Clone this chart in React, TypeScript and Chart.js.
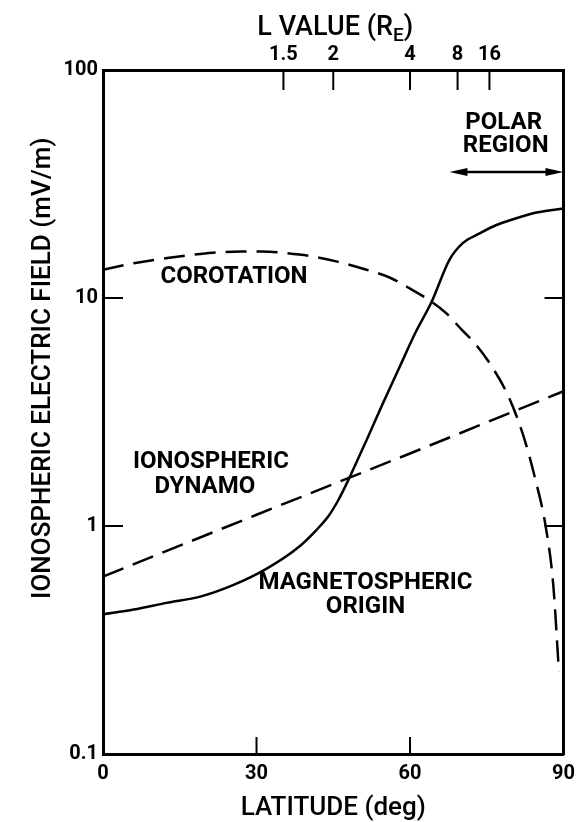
import React, { useEffect, useRef } from "react";
import { Chart, registerables } from "chart.js";

Chart.register(...registerables);

// ---- data ----
const corotationLat = [0, 6, 12, 19, 27, 31, 36, 41, 46, 51, 56, 60, 64, 67, 70, 73, 76, 79, 82, 84.5, 86.5, 88, 89.1];
const corotationField = [13.3, 14.2, 14.9, 15.6, 16.0, 16.0, 15.7, 15.2, 14.4, 13.4, 12.3, 11.0, 9.7, 8.6, 7.3, 6.2, 5.0, 3.8, 2.55, 1.6, 1.0, 0.55, 0.23];

const dynamoLat = [0, 30, 60, 90];
const dynamoField = [0.6, 1.12, 2.08, 3.9];

const magnetoLat = [0, 6, 12.4, 19, 25.4, 32, 38, 41.7, 44, 46, 48, 51.5, 54.7, 58, 61, 64.2, 67.7, 70.3, 73.6, 76.9, 80, 84.7, 90];
const magnetoField = [0.41, 0.43, 0.46, 0.49, 0.55, 0.65, 0.8, 0.96, 1.1, 1.3, 1.6, 2.38, 3.45, 5.0, 7.0, 9.6, 14.7, 17.4, 19.2, 20.9, 22.1, 23.7, 24.7];

const latitudeTicks = [0, 30, 60, 90];
const fieldTicks = [0.1, 1, 10, 100];
const fieldTickLabels = ["0.1", "1", "10", "100"];
const lValues = [1.5, 2, 4, 8, 16];
const lTickLabels = ["1.5", "2", "4", "8", "16"];
const innerLatTicks = [30, 60];
const innerFieldTicks = [1, 10];

const annotationTexts = ["COROTATION", "IONOSPHERIC", "DYNAMO", "MAGNETOSPHERIC", "ORIGIN", "POLAR", "REGION"];
const annotationLat = [25.6, 21.1, 19.9, 51.3, 51.3, 78.3, 78.7];
const annotationField = [12.4, 1.91, 1.48, 0.562, 0.44, 58.6, 46.4];
const polarRegionLat = [67.7, 90];
const polarArrowField = 35.7;

const FONT = "Roboto, 'DejaVu Sans', sans-serif";

const latOfL = (L: number) => (Math.acos(Math.sqrt(1 / L)) * 180) / Math.PI;

const pts = (xs: number[], ys: number[]) => xs.map((x, i) => ({ x, y: ys[i] }));

const decorPlugin = {
  id: "decor",
  afterDraw(chart: any) {
    const { ctx, chartArea } = chart;
    const xs = chart.scales.x;
    const ys = chart.scales.y;
    const { left, right, top, bottom } = chartArea;
    ctx.save();
    ctx.strokeStyle = "#000";
    ctx.fillStyle = "#000";
    ctx.lineWidth = 2;
    // inward ticks
    innerFieldTicks.forEach((v) => {
      const y = ys.getPixelForValue(v);
      ctx.beginPath();
      ctx.moveTo(left, y);
      ctx.lineTo(left + 20, y);
      ctx.moveTo(right, y);
      ctx.lineTo(right - 19, y);
      ctx.stroke();
    });
    innerLatTicks.forEach((v) => {
      const x = xs.getPixelForValue(v);
      ctx.beginPath();
      ctx.moveTo(x, bottom);
      ctx.lineTo(x, bottom - 17);
      ctx.stroke();
    });
    lValues.forEach((L) => {
      const x = xs.getPixelForValue(latOfL(L));
      ctx.beginPath();
      ctx.moveTo(x, top);
      ctx.lineTo(x, top + 20);
      ctx.stroke();
    });

    // annotations
    ctx.font = `bold 24px ${FONT}`;
    ctx.textAlign = "center";
    ctx.textBaseline = "middle";
    annotationTexts.forEach((t, i) => {
      ctx.fillText(t, xs.getPixelForValue(annotationLat[i]), ys.getPixelForValue(annotationField[i]));
    });

    // polar region arrow
    const ax1 = xs.getPixelForValue(polarRegionLat[0]);
    const ax2 = xs.getPixelForValue(polarRegionLat[1]);
    const ay = ys.getPixelForValue(polarArrowField);
    ctx.lineWidth = 2.5;
    ctx.beginPath();
    ctx.moveTo(ax1 + 8, ay);
    ctx.lineTo(ax2 - 8, ay);
    ctx.stroke();
    const head = (x: number, dir: number) => {
      ctx.beginPath();
      ctx.moveTo(x, ay);
      ctx.lineTo(x + dir * 18, ay - 4);
      ctx.lineTo(x + dir * 18, ay + 4);
      ctx.closePath();
      ctx.fill();
    };
    head(ax1, 1);
    head(ax2, -1);

    // axis titles
    ctx.font = `500 26px ${FONT}`;
    ctx.textBaseline = "middle";
    ctx.save();
    ctx.translate(43, top + (bottom - top) * 0.436);
    ctx.rotate(-Math.PI / 2);
    ctx.fillText("IONOSPHERIC ELECTRIC FIELD (mV/m)", 0, 0);
    ctx.restore();

    ctx.fillText("LATITUDE (deg)", (left + right) / 2, bottom + 54);

    // top title with subscript
    const main = "L VALUE (R";
    const sub = "E";
    const close = ")";
    ctx.font = `500 27px ${FONT}`;
    const wMain = ctx.measureText(main).width;
    const wClose = ctx.measureText(close).width;
    ctx.font = `500 19px ${FONT}`;
    const wSub = ctx.measureText(sub).width;
    const total = wMain + wSub + wClose;
    const cx = (left + right) / 2 + 2;
    const ty = top - 42;
    const x0 = cx - total / 2;
    ctx.textAlign = "left";
    ctx.font = `500 27px ${FONT}`;
    ctx.fillText(main, x0, ty);
    ctx.font = `500 19px ${FONT}`;
    ctx.fillText(sub, x0 + wMain, ty + 8);
    ctx.font = `500 27px ${FONT}`;
    ctx.fillText(close, x0 + wMain + wSub, ty);
    ctx.restore();
  },
};

export default function App() {
  const ref = useRef<HTMLCanvasElement | null>(null);
  useEffect(() => {
    if (!ref.current) return;
    const tickFont = { family: FONT, size: 20, weight: "bold" as any };
    const border = { display: true, color: "#000", width: 3 };
    const noGrid = { display: false, drawTicks: false };
    const line = {
      borderColor: "#000",
      borderWidth: 2.5,
      pointRadius: 0,
      fill: false,
    };
    const chart = new Chart(ref.current, {
      type: "line",
      data: {
        datasets: [
          {
            label: "Corotation",
            data: pts(corotationLat, corotationField),
            ...line,
            borderDash: [21, 10],
            cubicInterpolationMode: "monotone",
          },
          {
            label: "Ionospheric dynamo",
            data: pts(dynamoLat, dynamoField),
            ...line,
            borderDash: [22, 10],
            tension: 0,
          },
          {
            label: "Magnetospheric origin",
            data: pts(magnetoLat, magnetoField),
            ...line,
            cubicInterpolationMode: "monotone",
          },
        ],
      },
      options: {
        responsive: false,
        animation: false,
        devicePixelRatio: 1,
        layout: { padding: 0 },
        plugins: { legend: { display: false }, tooltip: { enabled: false } },
        scales: {
          x: {
            type: "linear",
            position: "bottom",
            min: 0,
            max: 90,
            afterBuildTicks: (s: any) => {
              s.ticks = latitudeTicks.map((v) => ({ value: v }));
            },
            ticks: { font: tickFont, color: "#000", padding: 8, maxRotation: 0, autoSkip: false },
            grid: noGrid,
            border,
            afterFit: (s: any) => {
              s.height = 68;
            },
          },
          xTop: {
            type: "linear",
            position: "top",
            min: 0,
            max: 90,
            afterBuildTicks: (s: any) => {
              s.ticks = lValues.map((L) => ({ value: latOfL(L) }));
            },
            ticks: {
              font: tickFont,
              color: "#000",
              padding: 3,
              maxRotation: 0,
              autoSkip: false,
              callback: (_v: any, i: number) => lTickLabels[i],
            },
            grid: noGrid,
            border,
            afterFit: (s: any) => {
              s.height = 70;
            },
          },
          y: {
            type: "logarithmic",
            position: "left",
            min: 0.1,
            max: 100,
            afterBuildTicks: (s: any) => {
              s.ticks = fieldTicks.map((v) => ({ value: v }));
            },
            ticks: {
              font: tickFont,
              color: "#000",
              padding: 5,
              autoSkip: false,
              callback: (_v: any, i: number) => fieldTickLabels[i],
            },
            grid: noGrid,
            border,
            afterFit: (s: any) => {
              s.width = 103;
            },
          },
          yRight: {
            type: "logarithmic",
            position: "right",
            min: 0.1,
            max: 100,
            ticks: { display: false },
            grid: noGrid,
            border,
            afterFit: (s: any) => {
              s.width = 19;
            },
          },
        },
      } as any,
      plugins: [decorPlugin],
    });
    return () => chart.destroy();
  }, []);
  return (
    <div style={{ position: "absolute", left: 0, top: 0, width: 583, height: 822, background: "#fff" }}>
      <canvas ref={ref} width={583} height={822} style={{ display: "block", width: 583, height: 822 }} />
    </div>
  );
}
